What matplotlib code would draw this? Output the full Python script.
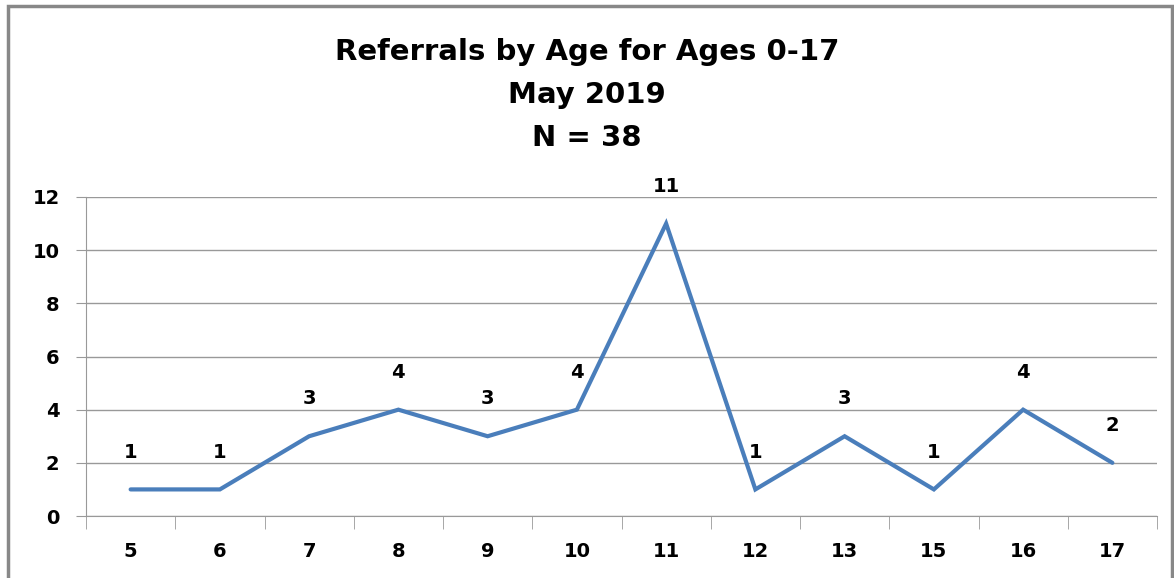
import matplotlib
matplotlib.use("Agg")
import matplotlib.pyplot as plt
from matplotlib.patches import Rectangle
import numpy as np

ages = ["5", "6", "7", "8", "9", "10", "11", "12", "13", "15", "16", "17"]
referrals = [1, 1, 3, 4, 3, 4, 11, 1, 3, 1, 4, 2]
yticks = [0, 2, 4, 6, 8, 10, 12]
title = "Referrals by Age for Ages 0-17\nMay 2019\nN = 38"

plt.rcParams['font.family'] = ['DejaVu Sans']
fig = plt.figure(figsize=(11.74, 5.78), dpi=100)
ax = fig.add_axes([86/1174, 62/578, (1157-86)/1174, (516-197)/578])

x = np.arange(len(ages))
ax.plot(x, referrals, color="#4a7ebb", lw=3, solid_capstyle="round", solid_joinstyle="miter")
for xi, v in zip(x, referrals):
    ax.annotate(str(v), (xi, v), xytext=(0, 20), textcoords="offset points",
                ha="center", va="bottom", fontsize=14, fontweight="bold")

ax.set_xlim(-0.5, len(ages) - 0.5)
ax.set_ylim(0, 12)
ax.set_yticks(yticks)
ax.set_yticklabels([str(t) for t in yticks], fontsize=14, fontweight="bold")
ax.set_xticks(x)
ax.set_xticklabels(ages, fontsize=14, fontweight="bold")
ax.set_xticks(np.arange(-0.5, len(ages)), minor=True)
ax.tick_params(axis="x", which="major", length=0, pad=19)
ax.tick_params(axis="x", which="minor", length=9, color="#999999", direction="out")
ax.tick_params(axis="y", length=7, color="#999999", pad=12)
ax.grid(axis="y", color="#999999", lw=1)
ax.set_axisbelow(True)
for s in ["top", "right"]:
    ax.spines[s].set_visible(False)
for s in ["left", "bottom"]:
    ax.spines[s].set_color("#999999")

fig.text(0.5, 1 - 95/578, title, ha="center", va="center", fontsize=21,
         fontweight="bold", linespacing=1.7)

fig.patches.append(Rectangle((8/1174, -0.05), (1172-8)/1174, 1 - 6/578 + 0.05,
                             transform=fig.transFigure, fill=False,
                             edgecolor="#888888", lw=2.5))
fig.savefig("out.png", dpi=100)
